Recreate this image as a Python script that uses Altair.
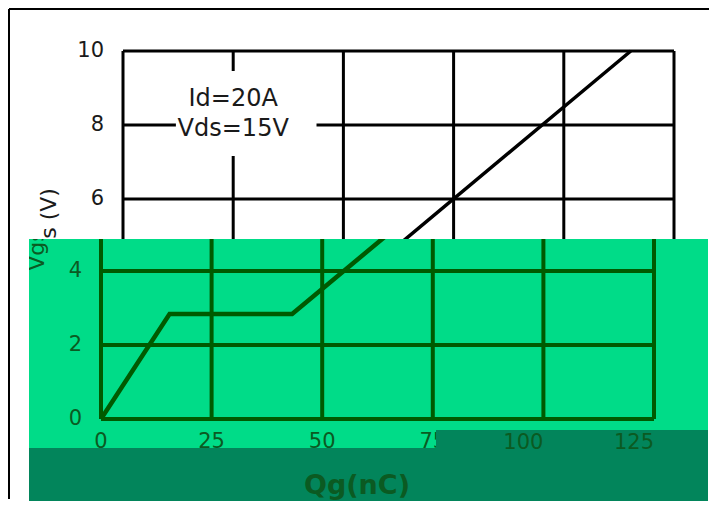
import altair as alt
import pandas as pd

# ---- data ----
QG = [0, 15.5, 43.2, 115.2]          # gate charge (nC)
VGS = [0, 2.84, 2.84, 10.0]          # gate-source voltage (V)
X_TICKS = [0, 25, 50, 75, 100, 125]
Y_TICKS = [0, 2, 4, 6, 8, 10]
ANNOT_LINES = ["Id=20A", "Vds=15V"]
ANNOT_X = [25, 25]
ANNOT_Y = [8.70, 7.89]
BOX_X = [12.0]
BOX_X2 = [43.9]
BOX_Y = [9.46]
BOX_Y2 = [7.16]
X_TITLE = "Qg(nC)"
Y_TITLE = "Vgs (V)"

FONT = "DejaVu Sans"
LIGHT = "#00DC88"
BAND = "#02855B"
GREEN_LINE = "#005A00"
GREEN_TXT = "#0B5A22"
INK = "#1a1a1a"

W = 679
HA = 230
HB = 191

curve = pd.DataFrame({"qg": QG, "vgs": VGS})
xt = pd.DataFrame({"t": X_TICKS})
yt = pd.DataFrame({"t": Y_TICKS})
ann = pd.DataFrame({"text": ANNOT_LINES, "x": ANNOT_X, "y": ANNOT_Y})
box = pd.DataFrame({"x": BOX_X, "x2": BOX_X2, "y": BOX_Y, "y2": BOX_Y2})
one = pd.DataFrame({"a": [0]})
ytitle = pd.DataFrame({"t": [Y_TITLE]})
xtitle = pd.DataFrame({"t": [X_TITLE]})

XMAX = X_TICKS[-1]
YMAX = Y_TICKS[-1]

# ---------------- upper (white) part ----------------
xsA = alt.Scale(domain=[0, XMAX], range=[94, 645])
ysA = alt.Scale(domain=[0, YMAX], range=[412, 42])

vgridA = alt.Chart(xt).mark_rule(clip=True, color="black", strokeWidth=3).encode(
    x=alt.X("t:Q", scale=xsA, axis=None),
    y=alt.YDatum(0, scale=ysA, axis=None),
    y2=alt.datum(YMAX),
)
hgridA = alt.Chart(yt).mark_rule(clip=True, color="black", strokeWidth=3).encode(
    y=alt.Y("t:Q", scale=ysA, axis=None),
    x=alt.XDatum(0, scale=xsA, axis=None),
    x2=alt.datum(XMAX),
)
ylabA = alt.Chart(pd.DataFrame({"t": [v for v in Y_TICKS if v >= 6]})).mark_text(
    font=FONT, fontSize=21, color=INK, align="right", baseline="middle").encode(
    y=alt.Y("t:Q", scale=ysA, axis=None), x=alt.value(75), text=alt.Text("t:Q"))
boxA = alt.Chart(box).mark_rect(color="white").encode(
    x=alt.X("x:Q", scale=xsA, axis=None), x2="x2",
    y=alt.Y("y:Q", scale=ysA, axis=None), y2="y2",
)
lineA = alt.Chart(curve).mark_line(clip=True, color="black", strokeWidth=3.5).encode(
    x=alt.X("qg:Q", scale=xsA, axis=None),
    y=alt.Y("vgs:Q", scale=ysA, axis=None),
)
annA = alt.Chart(ann).mark_text(font=FONT, fontSize=24, color=INK, baseline="middle").encode(
    x=alt.X("x:Q", scale=xsA, axis=None),
    y=alt.Y("y:Q", scale=ysA, axis=None),
    text="text:N",
)
titleA = alt.Chart(ytitle).mark_text(font=FONT, fontSize=22, color=INK, angle=270,
                                     baseline="middle", clip=True).encode(
    x=alt.value(20), y=alt.value(219), text="t:N")
frameL = alt.Chart(one).mark_rule(color="black", strokeWidth=2).encode(
    x=alt.value(-20), y=alt.value(0), y2=alt.value(490))
frameT = alt.Chart(one).mark_rule(color="black", strokeWidth=2).encode(
    x=alt.value(-20), x2=alt.value(680), y=alt.value(0))

upper = alt.layer(vgridA, hgridA, ylabA, boxA, lineA, annA, titleA, frameL, frameT).properties(
    width=W, height=HA)

# ---------------- lower (green) part ----------------
xsB = alt.Scale(domain=[0, XMAX], range=[72, 625])
ysB = alt.Scale(domain=[0, YMAX], range=[180, -190])

extB = alt.Chart(one).mark_rect(color=LIGHT).encode(
    x=alt.value(0), x2=alt.value(W), y=alt.value(HB), y2=alt.value(209))
vgridB = alt.Chart(xt).mark_rule(clip=True, color=GREEN_LINE, strokeWidth=4).encode(
    x=alt.X("t:Q", scale=xsB, axis=None),
    y=alt.YDatum(0, scale=ysB, axis=None),
    y2=alt.datum(YMAX),
)
hgridB = alt.Chart(yt).mark_rule(clip=True, color=GREEN_LINE, strokeWidth=4).encode(
    y=alt.Y("t:Q", scale=ysB, axis=None),
    x=alt.XDatum(0, scale=xsB, axis=None),
    x2=alt.datum(XMAX),
)
ylabB = alt.Chart(pd.DataFrame({"t": [v for v in Y_TICKS if v <= 4]})).mark_text(
    font=FONT, fontSize=21, color=GREEN_TXT, align="right", baseline="middle").encode(
    y=alt.Y("t:Q", scale=ysB, axis=None), x=alt.value(53), text=alt.Text("t:Q"))
xlabB = alt.Chart(pd.DataFrame({"t": [v for v in X_TICKS if v < 100]})).mark_text(
    font=FONT, fontSize=21, color=GREEN_TXT, baseline="middle").encode(
    x=alt.X("t:Q", scale=xsB, axis=None), y=alt.value(203), text=alt.Text("t:Q"))
lineB = alt.Chart(curve).mark_line(clip=True, color=GREEN_LINE, strokeWidth=4.5).encode(
    x=alt.X("qg:Q", scale=xsB, axis=None),
    y=alt.Y("vgs:Q", scale=ysB, axis=None),
)
band1 = alt.Chart(one).mark_rect(color=BAND).encode(
    x=alt.value(0), x2=alt.value(407), y=alt.value(209), y2=alt.value(262))
band2 = alt.Chart(one).mark_rect(color=BAND).encode(
    x=alt.value(407), x2=alt.value(W), y=alt.value(191), y2=alt.value(262))
bandLabels = alt.Chart(pd.DataFrame({"t": [v for v in X_TICKS if v >= 100]})).mark_text(
    font=FONT, fontSize=21, color=GREEN_TXT, dx=-20, baseline="middle").encode(
    x=alt.X("t:Q", scale=xsB, axis=None), y=alt.value(204), text=alt.Text("t:Q"))
xTitleB = alt.Chart(xtitle).mark_text(font=FONT, fontSize=27, fontWeight="bold",
                                      color=GREEN_TXT, baseline="middle").encode(
    x=alt.value(328), y=alt.value(247), text="t:N")
yTitleB = alt.Chart(ytitle).mark_text(font=FONT, fontSize=22, color=GREEN_TXT, angle=270,
                                      baseline="middle", clip=True).encode(
    x=alt.value(8), y=alt.value(-8), text="t:N")

lower = alt.layer(extB, vgridB, hgridB, ylabB, xlabB, lineB, band1, band2, bandLabels,
                  xTitleB, yTitleB
                  ).properties(width=W, height=HB, view=alt.ViewBackground(fill=LIGHT))

chart = alt.vconcat(upper, lower, spacing=0, bounds="flush").properties(
    padding=0).configure_view(strokeWidth=0)

chart.save("out.html", embed_options={"renderer": "svg", "actions": False})
